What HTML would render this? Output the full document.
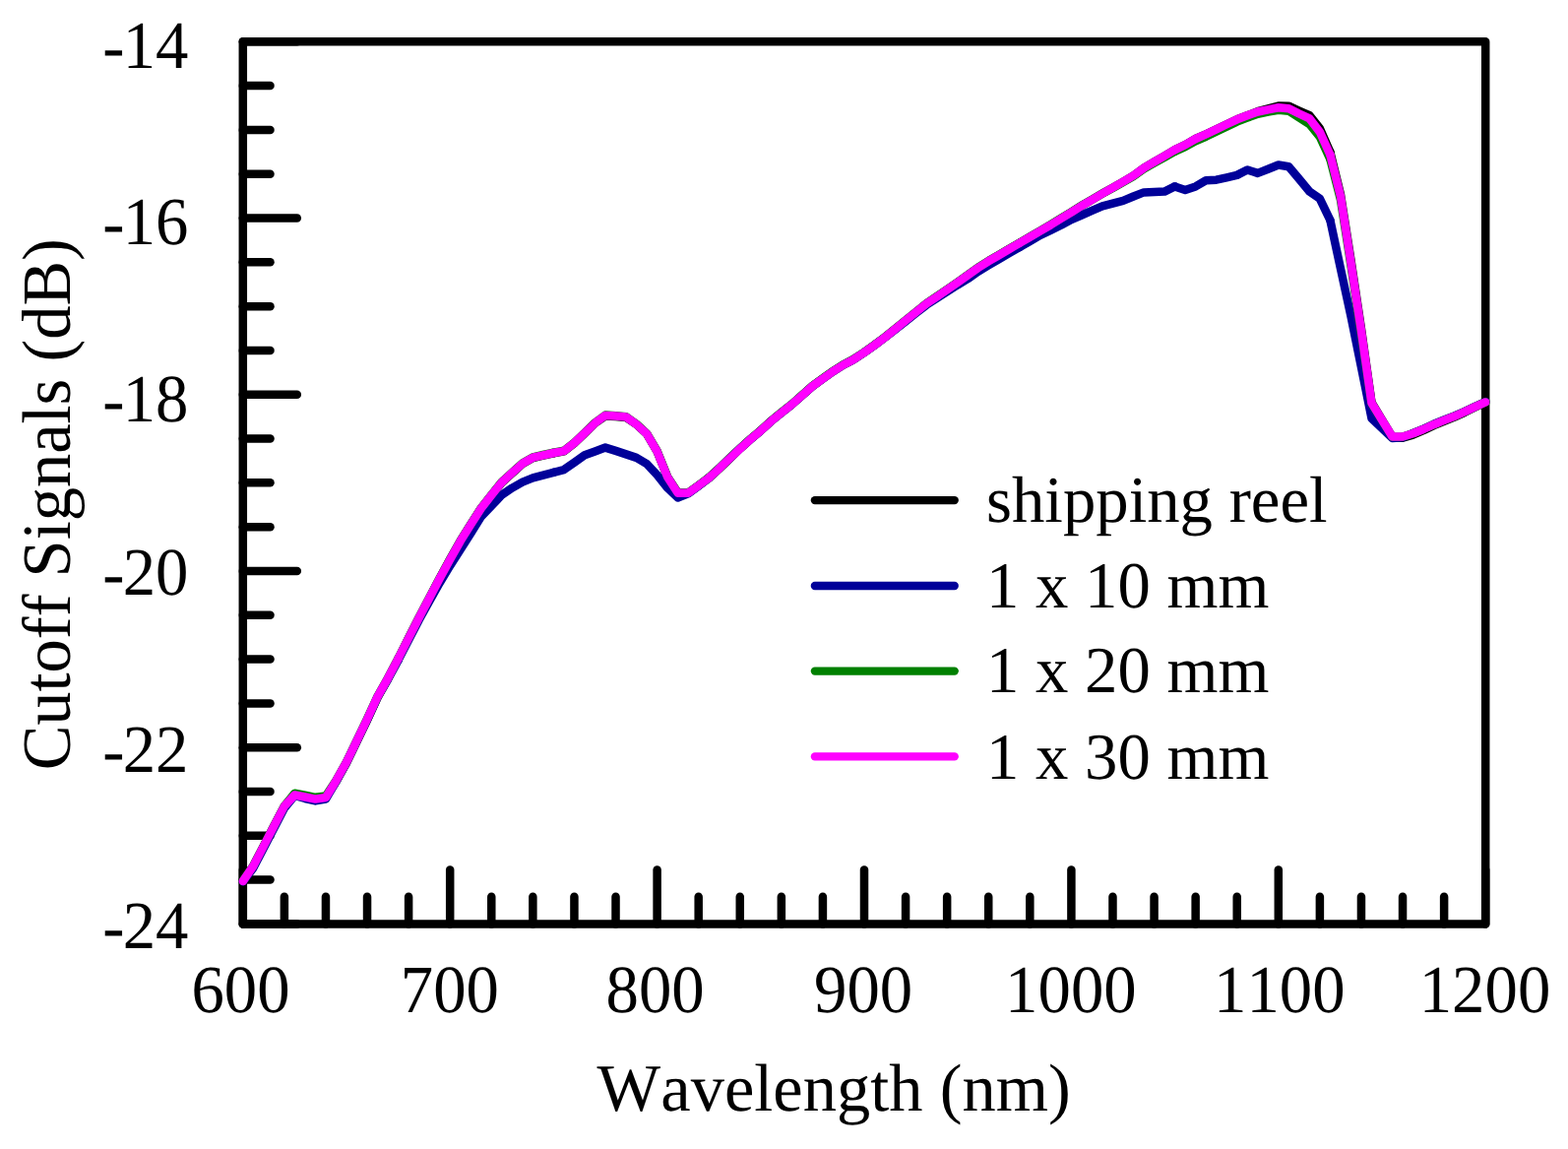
<!DOCTYPE html>
<html lang="en"><head><meta charset="utf-8"><title>Cutoff Signals vs Wavelength</title>
<style>html,body{margin:0;padding:0;background:#fff;}body{width:1593px;height:1167px;overflow:hidden;}svg{display:block;}text{font-family:"Liberation Serif","Times New Roman",serif;fill:#000;font-kerning:none;font-variant-ligatures:none;}</style>
</head><body>
<svg width="1593" height="1167" viewBox="0 0 1593 1167">
<rect x="0" y="0" width="1593" height="1167" fill="#ffffff"/>
<g stroke="#000" stroke-width="8.50" stroke-linecap="round" fill="none">
<line x1="246.80" y1="42.30" x2="301.80" y2="42.30"/>
<line x1="246.80" y1="87.10" x2="274.50" y2="87.10"/>
<line x1="246.80" y1="131.91" x2="274.50" y2="131.91"/>
<line x1="246.80" y1="176.72" x2="274.50" y2="176.72"/>
<line x1="246.80" y1="221.52" x2="301.80" y2="221.52"/>
<line x1="246.80" y1="266.32" x2="274.50" y2="266.32"/>
<line x1="246.80" y1="311.13" x2="274.50" y2="311.13"/>
<line x1="246.80" y1="355.94" x2="274.50" y2="355.94"/>
<line x1="246.80" y1="400.74" x2="301.80" y2="400.74"/>
<line x1="246.80" y1="445.55" x2="274.50" y2="445.55"/>
<line x1="246.80" y1="490.35" x2="274.50" y2="490.35"/>
<line x1="246.80" y1="535.15" x2="274.50" y2="535.15"/>
<line x1="246.80" y1="579.96" x2="301.80" y2="579.96"/>
<line x1="246.80" y1="624.76" x2="274.50" y2="624.76"/>
<line x1="246.80" y1="669.57" x2="274.50" y2="669.57"/>
<line x1="246.80" y1="714.38" x2="274.50" y2="714.38"/>
<line x1="246.80" y1="759.18" x2="301.80" y2="759.18"/>
<line x1="246.80" y1="803.99" x2="274.50" y2="803.99"/>
<line x1="246.80" y1="848.79" x2="274.50" y2="848.79"/>
<line x1="246.80" y1="893.60" x2="274.50" y2="893.60"/>
<line x1="246.80" y1="938.40" x2="301.80" y2="938.40"/>
<line x1="246.80" y1="938.40" x2="246.80" y2="883.40"/>
<line x1="288.88" y1="938.40" x2="288.88" y2="910.70"/>
<line x1="330.96" y1="938.40" x2="330.96" y2="910.70"/>
<line x1="373.04" y1="938.40" x2="373.04" y2="910.70"/>
<line x1="415.12" y1="938.40" x2="415.12" y2="910.70"/>
<line x1="457.20" y1="938.40" x2="457.20" y2="883.40"/>
<line x1="499.28" y1="938.40" x2="499.28" y2="910.70"/>
<line x1="541.36" y1="938.40" x2="541.36" y2="910.70"/>
<line x1="583.44" y1="938.40" x2="583.44" y2="910.70"/>
<line x1="625.52" y1="938.40" x2="625.52" y2="910.70"/>
<line x1="667.60" y1="938.40" x2="667.60" y2="883.40"/>
<line x1="709.68" y1="938.40" x2="709.68" y2="910.70"/>
<line x1="751.76" y1="938.40" x2="751.76" y2="910.70"/>
<line x1="793.84" y1="938.40" x2="793.84" y2="910.70"/>
<line x1="835.92" y1="938.40" x2="835.92" y2="910.70"/>
<line x1="878.00" y1="938.40" x2="878.00" y2="883.40"/>
<line x1="920.08" y1="938.40" x2="920.08" y2="910.70"/>
<line x1="962.16" y1="938.40" x2="962.16" y2="910.70"/>
<line x1="1004.24" y1="938.40" x2="1004.24" y2="910.70"/>
<line x1="1046.32" y1="938.40" x2="1046.32" y2="910.70"/>
<line x1="1088.40" y1="938.40" x2="1088.40" y2="883.40"/>
<line x1="1130.48" y1="938.40" x2="1130.48" y2="910.70"/>
<line x1="1172.56" y1="938.40" x2="1172.56" y2="910.70"/>
<line x1="1214.64" y1="938.40" x2="1214.64" y2="910.70"/>
<line x1="1256.72" y1="938.40" x2="1256.72" y2="910.70"/>
<line x1="1298.80" y1="938.40" x2="1298.80" y2="883.40"/>
<line x1="1340.88" y1="938.40" x2="1340.88" y2="910.70"/>
<line x1="1382.96" y1="938.40" x2="1382.96" y2="910.70"/>
<line x1="1425.04" y1="938.40" x2="1425.04" y2="910.70"/>
<line x1="1467.12" y1="938.40" x2="1467.12" y2="910.70"/>
<line x1="1509.20" y1="938.40" x2="1509.20" y2="883.40"/>
</g>
<rect x="246.80" y="42.30" width="1262.40" height="896.10" fill="none" stroke="#000" stroke-width="8.50" stroke-linejoin="round"/>
<g fill="none" stroke-width="8.50" stroke-linecap="round" stroke-linejoin="round">
<g stroke="#000000">
<polyline points="246.80,895.00 257.32,879.60 267.84,859.40 278.36,839.00 288.88,818.90 299.40,807.50 309.92,809.50 320.44,811.60 330.96,810.00 341.48,793.70 352.00,775.00 362.52,753.20 373.04,731.30 383.56,708.40 394.08,689.60 404.60,669.70"/>
<polyline points="404.60,669.70 415.12,648.10 425.64,627.50 436.16,607.50 446.68,587.50 457.20,568.20 467.72,549.60 478.24,532.70 488.76,516.40 499.28,503.20 509.80,490.10 520.32,480.50 530.84,471.10 541.36,465.00 551.88,462.60 562.40,460.30"/>
<polyline points="562.40,460.30 572.92,458.40 583.44,450.10 593.96,440.10 604.48,429.70 615.00,422.40 625.52,423.10 636.04,424.00 646.56,431.00 657.08,440.70 667.60,458.50 678.12,484.50 688.64,500.70 699.16,500.70 709.68,493.20 720.20,485.60"/>
<polyline points="720.20,485.60 730.72,476.10 741.24,466.00 751.76,455.80 762.28,446.30 772.80,437.40 783.32,427.80 793.84,419.20 804.36,410.90 814.88,401.60 825.40,392.30 835.92,384.60 846.44,377.10 856.96,370.50 867.48,364.90 878.00,358.00"/>
<polyline points="878.00,358.00 888.52,350.50 899.04,342.60 909.56,334.10 920.08,325.50 930.60,317.00 941.12,308.50 951.64,301.40 962.16,294.20 972.68,287.00 983.20,279.50 993.72,272.00 1004.24,265.30 1014.76,259.20 1025.28,253.00 1035.80,246.90"/>
<polyline points="1035.80,246.90 1046.32,240.80 1056.84,234.60 1067.36,228.50 1077.88,222.00 1088.40,215.70 1098.92,209.00 1109.44,202.90 1119.96,196.70 1130.48,190.60 1141.00,184.60 1151.52,178.40 1162.04,170.70 1172.56,164.50 1183.08,158.40 1193.60,152.10"/>
<polyline points="1193.60,152.10 1204.12,147.10 1214.64,141.00 1225.16,136.30 1235.68,131.40 1246.20,126.30 1256.72,121.30 1267.24,117.30 1277.76,113.20 1288.28,110.30 1298.80,107.50 1309.32,107.70 1319.84,112.50 1330.36,117.15 1340.88,130.45 1351.40,154.40"/>
<polyline points="1351.40,154.40 1361.92,197.20 1372.44,264.00 1382.96,334.00 1393.48,408.80 1404.00,426.40 1414.52,444.00 1425.04,444.70 1435.56,441.60 1446.08,437.20 1456.60,432.20 1467.12,427.80 1477.64,423.60 1488.16,418.80 1498.68,413.50 1509.20,408.40"/>
</g>
<g stroke="#000099">
<polyline points="246.80,895.30 257.32,881.60 267.84,861.40 278.36,841.00 288.88,820.70 299.40,808.00 309.92,811.00 320.44,813.40 330.96,811.50 341.48,793.70 352.00,774.50 362.52,752.70 373.04,730.80 383.56,707.90 394.08,689.80 404.60,670.40"/>
<polyline points="404.60,670.40 415.12,650.10 425.64,629.80 436.16,610.80 446.68,592.00 457.20,574.60 467.72,558.30 478.24,541.80 488.76,524.70 499.28,513.90 509.80,502.70 520.32,495.60 530.84,489.60 541.36,485.40 551.88,482.60 562.40,479.80"/>
<polyline points="562.40,479.80 572.92,477.10 583.44,469.70 593.96,462.30 604.48,458.40 615.00,454.60 625.52,457.90 636.04,461.40 646.56,464.90 657.08,471.10 667.60,482.30 678.12,495.50 688.64,505.50 699.16,501.40 709.68,493.50 720.20,485.30"/>
<polyline points="720.20,485.30 730.72,475.50 741.24,465.40 751.76,455.50 762.28,446.30 772.80,437.40 783.32,427.80 793.84,419.20 804.36,410.90 814.88,401.60 825.40,392.30 835.92,384.60 846.44,377.10 856.96,370.50 867.48,364.90 878.00,358.00"/>
<polyline points="878.00,358.00 888.52,350.50 899.04,342.60 909.56,334.60 920.08,326.30 930.60,318.00 941.12,309.80 951.64,303.00 962.16,296.20 972.68,289.50 983.20,283.20 993.72,275.80 1004.24,269.40 1014.76,263.30 1025.28,257.10 1035.80,251.10"/>
<polyline points="1035.80,251.10 1046.32,245.00 1056.84,238.90 1067.36,233.90 1077.88,228.80 1088.40,223.00 1098.92,218.50 1109.44,213.90 1119.96,209.30 1130.48,206.60 1141.00,203.90 1151.52,199.50 1162.04,195.40 1172.56,195.00 1183.08,194.60 1193.60,189.40"/>
<polyline points="1193.60,189.40 1204.12,193.00 1214.64,189.40 1225.16,183.30 1235.68,182.70 1246.20,180.40 1256.72,177.90 1267.24,172.50 1277.76,175.90 1288.28,171.70 1298.80,167.50 1309.32,169.20 1319.84,181.80 1330.36,194.50 1340.88,201.80 1351.40,223.70"/>
<polyline points="1351.40,223.70 1361.92,272.70 1372.44,321.10 1382.96,373.00 1393.48,425.00 1404.00,435.00 1414.52,445.00 1425.04,444.30 1435.56,439.90 1446.08,435.60 1456.60,430.80 1467.12,426.50 1477.64,422.40 1488.16,417.80 1498.68,412.80 1509.20,408.00"/>
</g>
<g stroke="#008000">
<polyline points="246.80,894.70 257.32,879.30 267.84,859.10 278.36,838.70 288.88,818.60 299.40,805.70 309.92,807.70 320.44,809.80 330.96,808.50 341.48,792.60 352.00,773.90 362.52,752.10 373.04,730.20 383.56,707.30 394.08,688.50 404.60,668.60"/>
<polyline points="404.60,668.60 415.12,647.80 425.64,627.20 436.16,607.20 446.68,587.20 457.20,567.90 467.72,549.30 478.24,532.40 488.76,516.10 499.28,502.60 509.80,489.50 520.32,479.90 530.84,470.50 541.36,464.40 551.88,462.00 562.40,459.70"/>
<polyline points="562.40,459.70 572.92,457.80 583.44,449.50 593.96,439.50 604.48,429.40 615.00,421.60 625.52,422.30 636.04,423.20 646.56,430.70 657.08,440.40 667.60,458.20 678.12,484.20 688.64,500.40 699.16,500.40 709.68,492.90 720.20,485.00"/>
<polyline points="720.20,485.00 730.72,475.50 741.24,465.40 751.76,455.50 762.28,446.00 772.80,437.10 783.32,427.50 793.84,418.90 804.36,410.60 814.88,401.30 825.40,392.00 835.92,384.30 846.44,376.80 856.96,370.20 867.48,364.60 878.00,357.70"/>
<polyline points="878.00,357.70 888.52,350.20 899.04,342.30 909.56,333.80 920.08,325.20 930.60,316.70 941.12,308.20 951.64,301.10 962.16,293.90 972.68,286.70 983.20,279.20 993.72,271.70 1004.24,265.00 1014.76,258.90 1025.28,252.70 1035.80,246.60"/>
<polyline points="1035.80,246.60 1046.32,240.50 1056.84,234.30 1067.36,228.20 1077.88,221.70 1088.40,215.40 1098.92,208.70 1109.44,202.60 1119.96,196.40 1130.48,191.00 1141.00,185.10 1151.52,179.00 1162.04,171.50 1172.56,165.50 1183.08,159.70 1193.60,153.80"/>
<polyline points="1193.60,153.80 1204.12,149.10 1214.64,143.30 1225.16,138.80 1235.68,133.70 1246.20,128.60 1256.72,123.60 1267.24,119.60 1277.76,115.80 1288.28,113.60 1298.80,111.80 1309.32,112.70 1319.84,119.40 1330.36,126.15 1340.88,139.05 1351.40,161.70"/>
<polyline points="1351.40,161.70 1361.92,202.60 1372.44,269.50 1382.96,338.50 1393.48,409.80 1404.00,426.70 1414.52,443.80 1425.04,443.50 1435.56,440.30 1446.08,436.00 1456.60,431.20 1467.12,426.90 1477.64,422.80 1488.16,418.20 1498.68,413.20 1509.20,408.40"/>
</g>
<g stroke="#ff00ff">
<polyline points="246.80,895.00 257.32,879.60 267.84,859.40 278.36,839.00 288.88,818.90 299.40,807.50 309.92,809.50 320.44,811.60 330.96,810.00 341.48,792.90 352.00,774.20 362.52,752.40 373.04,730.50 383.56,707.60 394.08,688.80 404.60,668.90"/>
<polyline points="404.60,668.90 415.12,648.10 425.64,627.50 436.16,607.50 446.68,587.50 457.20,568.20 467.72,549.60 478.24,532.70 488.76,516.40 499.28,502.90 509.80,489.80 520.32,480.20 530.84,470.80 541.36,464.70 551.88,462.30 562.40,460.00"/>
<polyline points="562.40,460.00 572.92,458.10 583.44,449.80 593.96,439.80 604.48,429.70 615.00,421.90 625.52,422.60 636.04,423.50 646.56,431.00 657.08,440.70 667.60,458.50 678.12,484.50 688.64,500.70 699.16,500.70 709.68,493.20 720.20,485.30"/>
<polyline points="720.20,485.30 730.72,475.80 741.24,465.70 751.76,455.80 762.28,446.30 772.80,437.40 783.32,427.80 793.84,419.20 804.36,410.90 814.88,401.60 825.40,392.30 835.92,384.60 846.44,377.10 856.96,370.50 867.48,364.90 878.00,358.00"/>
<polyline points="878.00,358.00 888.52,350.50 899.04,342.60 909.56,334.10 920.08,325.50 930.60,317.00 941.12,308.50 951.64,301.40 962.16,294.20 972.68,287.00 983.20,279.50 993.72,272.00 1004.24,265.30 1014.76,259.20 1025.28,253.00 1035.80,246.90"/>
<polyline points="1035.80,246.90 1046.32,240.80 1056.84,234.60 1067.36,228.50 1077.88,222.00 1088.40,215.70 1098.92,209.00 1109.44,202.90 1119.96,196.70 1130.48,190.60 1141.00,184.60 1151.52,178.40 1162.04,170.70 1172.56,164.50 1183.08,158.40 1193.60,152.10"/>
<polyline points="1193.60,152.10 1204.12,147.10 1214.64,141.00 1225.16,136.30 1235.68,131.40 1246.20,126.30 1256.72,121.30 1267.24,117.30 1277.76,113.50 1288.28,111.30 1298.80,109.30 1309.32,110.20 1319.84,115.50 1330.36,120.40 1340.88,134.10 1351.40,157.20"/>
<polyline points="1351.40,157.20 1361.92,199.20 1372.44,266.50 1382.96,336.00 1393.48,409.30 1404.00,426.40 1414.52,443.50 1425.04,443.50 1435.56,440.30 1446.08,436.00 1456.60,431.20 1467.12,426.90 1477.64,422.80 1488.16,418.20 1498.68,413.20 1509.20,408.40"/>
</g>
</g>
<g fill="none" stroke-width="8.40" stroke-linecap="round">
<line x1="827.9" y1="508.10" x2="969.7" y2="508.10" stroke="#000000"/>
<line x1="827.9" y1="595.00" x2="969.7" y2="595.00" stroke="#000099"/>
<line x1="827.9" y1="681.60" x2="969.7" y2="681.60" stroke="#008000"/>
<line x1="827.9" y1="768.40" x2="969.7" y2="768.40" stroke="#ff00ff"/>
</g>
<g font-size="66.75px">
<text transform="translate(1002.0,530.00) skewX(0.05)">shipping reel</text>
<text transform="translate(1002.0,616.80) skewX(0.05)">1 x 10 mm</text>
<text transform="translate(1002.0,703.40) skewX(0.05)">1 x 20 mm</text>
<text transform="translate(1002.0,790.70) skewX(0.05)">1 x 30 mm</text>
</g>
<g font-size="66.80px">
<text transform="translate(0,69.00) skewX(0.05) scale(1,1.027)" x="104.16 124.70 158.10" dy="1 -1 0">-14</text>
<text transform="translate(0,248.00) skewX(0.05) scale(1,1.027)" x="104.16 124.70 158.10" dy="1 -1 0">-16</text>
<text transform="translate(0,428.00) skewX(0.05) scale(1,1.027)" x="104.16 124.70 158.10" dy="1 -1 0">-18</text>
<text transform="translate(0,604.00) skewX(0.05) scale(1,1.027)" x="104.16 124.70 158.10" dy="1 -1 0">-20</text>
<text transform="translate(0,784.00) skewX(0.05) scale(1,1.027)" x="104.16 124.70 158.10" dy="1 -1 0">-22</text>
<text transform="translate(0,963.00) skewX(0.05) scale(1,1.027)" x="104.16 124.70 158.10" dy="1 -1 0">-24</text>
</g>
<g font-size="66.80px" text-anchor="middle">
<text transform="translate(244.50,1028.0) skewX(0.05) scale(1,1.027)">600</text>
<text transform="translate(456.90,1028.0) skewX(0.05) scale(1,1.027)">700</text>
<text transform="translate(665.60,1028.0) skewX(0.05) scale(1,1.027)">800</text>
<text transform="translate(877.10,1028.0) skewX(0.05) scale(1,1.027)">900</text>
<text transform="translate(1087.90,1028.0) skewX(0.05) scale(1,1.027)">1000</text>
<text transform="translate(1299.80,1028.0) skewX(0.05) scale(1,1.027)">1100</text>
<text transform="translate(1508.50,1028.0) skewX(0.05) scale(1,1.027)">1200</text>
</g>
<text transform="translate(847.2,1127.5) skewX(0.05) scale(1,1.0)" font-size="68.50px" text-anchor="middle">Wavelength (nm)</text>
<text transform="translate(71.0,512.2) rotate(-90) scale(1,1.02)" font-size="68.50px" text-anchor="middle">Cutoff Signals (dB)</text>
</svg>
</body></html>
